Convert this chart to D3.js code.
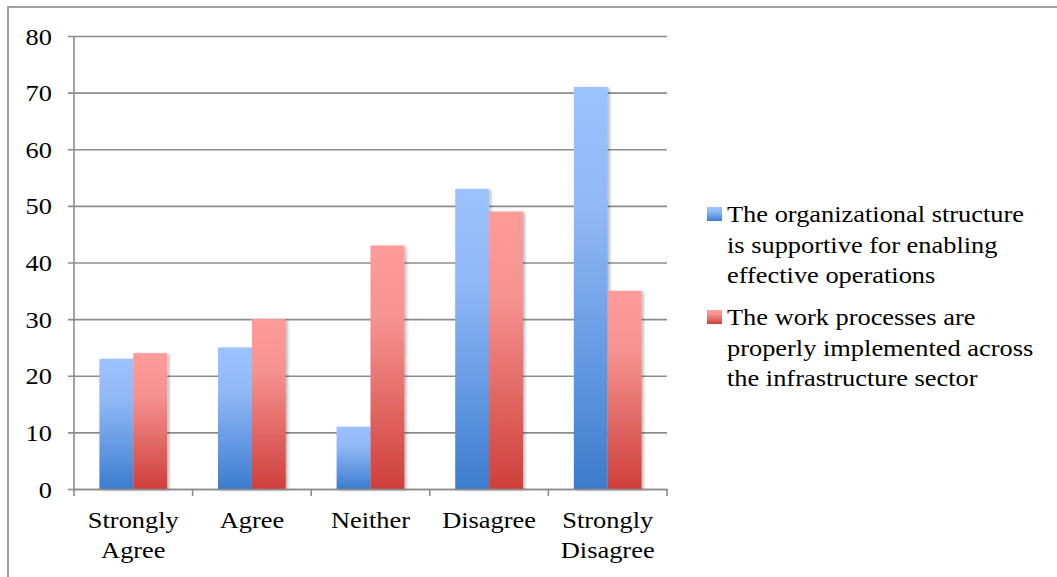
<!DOCTYPE html>
<html>
<head>
<meta charset="utf-8">
<script src="https://cdn.jsdelivr.net/npm/d3@7"></script>
<style>
  html, body { margin: 0; padding: 0; background: #fff; }
  svg { display: block; }
</style>
</head>
<body>
<svg id="chart" width="1057" height="577"></svg>
<script>
// Survey responses per agreement level
const categories = ["Strongly Agree", "Agree", "Neither", "Disagree", "Strongly Disagree"];
const categoryLines = [["Strongly", "Agree"], ["Agree"], ["Neither"], ["Disagree"], ["Strongly", "Disagree"]];
const seriesNames = [
  "The organizational structure is supportive for enabling effective operations",
  "The work processes are properly implemented across the infrastructure sector"
];
const legendLines = [
  ["The organizational structure", "is supportive for enabling", "effective operations"],
  ["The work processes are", "properly implemented across", "the infrastructure sector"]
];
const structureValues = [23, 25, 11, 53, 71];
const processValues = [24, 30, 43, 49, 35];
const yTicks = [0, 10, 20, 30, 40, 50, 60, 70, 80];

const seriesValues = [structureValues, processValues];
const data = categories.map((c, i) => ({
  category: c,
  values: seriesNames.map((s, j) => ({ series: j, value: seriesValues[j][i] }))
}));

const svg = d3.select("#chart");
const plot = { left: 74, right: 667, top: 36, bottom: 489 };
const fontSize = 24, stretch = 1.1;

// Text is drawn slightly widened horizontally
function label(x, yPos, txt, anchor) {
  return svg.append("text")
    .attr("transform", `translate(${x},${yPos}) scale(${stretch},1)`)
    .attr("text-anchor", anchor)
    .attr("font-family", "Liberation Serif")
    .attr("font-size", fontSize)
    .attr("fill", "#000")
    .text(txt);
}

// Outer frame
svg.append("rect")
  .attr("x", 8).attr("y", 7).attr("width", 1100).attr("height", 600)
  .attr("fill", "none").attr("stroke", "#8a8a8a").attr("stroke-width", 1.6);

const defs = svg.append("defs");
const gradients = [
  { id: "gradBlue", stops: [[0, "#9cc2ff"], [0.3, "#92b9f7"], [0.75, "#5b93de"], [1, "#3c7ccc"]] },
  { id: "gradRed", stops: [[0, "#ff9b9a"], [0.3, "#f69391"], [0.75, "#dc5d59"], [1, "#cf3f3b"]] }
];
gradients.forEach(g => {
  const lg = defs.append("linearGradient").attr("id", g.id)
    .attr("x1", 0).attr("y1", 0).attr("x2", 0).attr("y2", 1);
  g.stops.forEach(([o, c]) => lg.append("stop").attr("offset", o).attr("stop-color", c));
});
const shadow = defs.append("filter").attr("id", "barShadow")
  .attr("x", "-20%").attr("y", "-5%").attr("width", "150%").attr("height", "115%");
shadow.append("feDropShadow").attr("dx", 2).attr("dy", 1).attr("stdDeviation", 1.8)
  .attr("flood-color", "#000").attr("flood-opacity", 0.28);

const x0 = d3.scaleBand().domain(categories).range([plot.left, plot.right]).padding(0);
const x1 = d3.scaleBand().domain([0, 1]).range([0, x0.bandwidth()]).paddingInner(0).paddingOuter(0.75);
const y = d3.scaleLinear().domain([0, 80]).range([plot.bottom, plot.top]);

// Horizontal gridlines with left ticks
const yAxis = d3.axisLeft(y).tickValues(yTicks).tickSize(-(plot.right - plot.left)).tickSizeOuter(0).tickFormat(d3.format("d"));
const gy = svg.append("g").attr("transform", `translate(${plot.left},0)`).call(yAxis);
gy.select(".domain").remove();
gy.selectAll(".tick line").attr("stroke", "#8c8c8c").attr("stroke-width", 1.6).attr("x1", -6);
gy.selectAll(".tick text").remove();
yTicks.forEach(t => label(52, y(t) + 8.5, t, "end"));

// Vertical axis line
svg.append("line").attr("x1", plot.left).attr("x2", plot.left)
  .attr("y1", plot.top).attr("y2", plot.bottom)
  .attr("stroke", "#8c8c8c").attr("stroke-width", 1.6);

// Bars
const groups = svg.append("g").selectAll("g").data(data).join("g")
  .attr("transform", d => `translate(${x0(d.category)},0)`);
groups.selectAll("rect").data(d => d.values).join("rect")
  .attr("x", d => x1(d.series))
  .attr("width", x1.bandwidth())
  .attr("y", d => y(d.value))
  .attr("height", d => y(0) - y(d.value))
  .attr("fill", d => d.series === 0 ? "url(#gradBlue)" : "url(#gradRed)")
  .attr("filter", "url(#barShadow)");

// Category axis
const xAxis = d3.axisBottom(x0).tickSize(0).tickFormat("");
const gx = svg.append("g").attr("transform", `translate(0,${plot.bottom})`).call(xAxis);
gx.select(".domain").attr("stroke", "#8c8c8c").attr("stroke-width", 1.6);
const boundaries = categories.map(c => x0(c)).concat([plot.right]);
gx.selectAll(".sep").data(boundaries).join("line")
  .attr("x1", d => d).attr("x2", d => d).attr("y1", 0).attr("y2", 7)
  .attr("stroke", "#8c8c8c").attr("stroke-width", 1.6);

categories.forEach((c, i) => {
  const cx = x0(c) + x0.bandwidth() / 2;
  categoryLines[i].forEach((line, k) => label(cx, 528 + k * 30, line, "middle"));
});

// Legend
const legendTop = [207, 310];
seriesNames.forEach((s, j) => {
  svg.append("rect")
    .attr("x", 707).attr("y", legendTop[j]).attr("width", 15).attr("height", 14)
    .attr("fill", j === 0 ? "url(#gradBlue)" : "url(#gradRed)");
  legendLines[j].forEach((line, k) => label(727, legendTop[j] + 15 + k * 30.5, line, "start"));
});
</script>
</body>
</html>
